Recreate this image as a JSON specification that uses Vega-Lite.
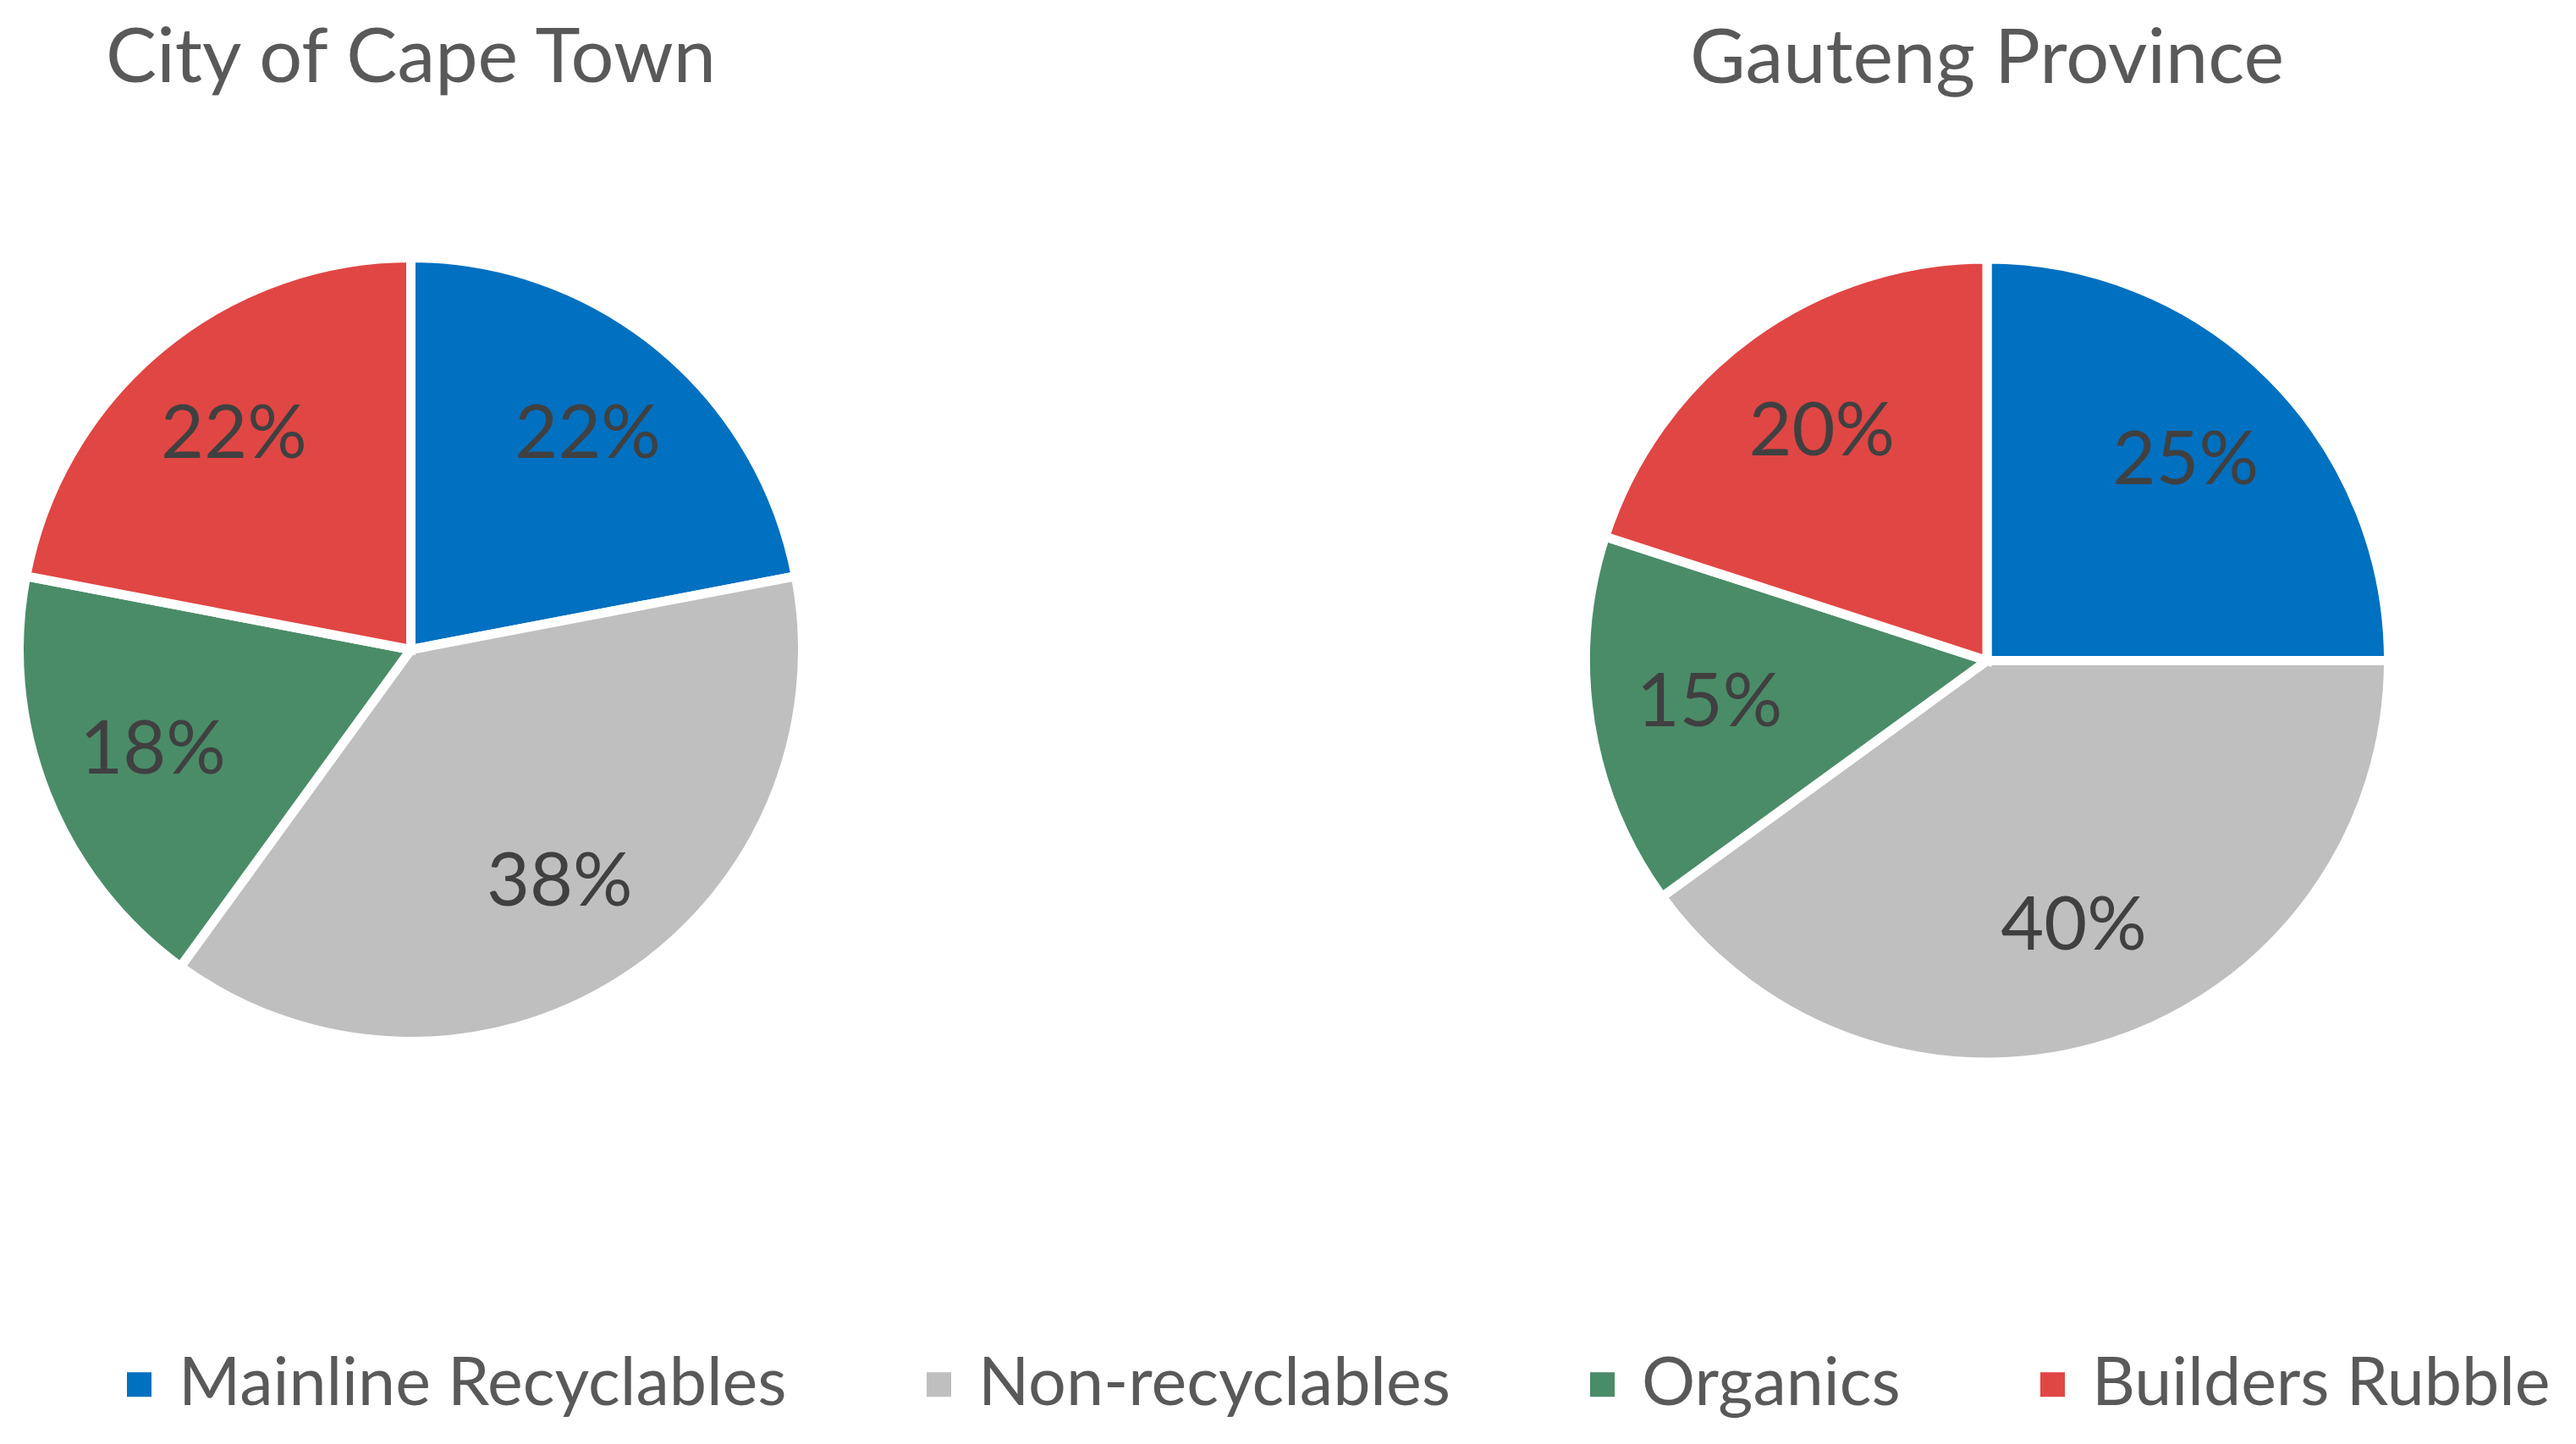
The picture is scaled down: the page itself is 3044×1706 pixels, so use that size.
{
  "$schema": "https://vega.github.io/schema/vega-lite/v6.json",
  "background": "white",
  "padding": {"left": 0, "top": 24, "right": 0, "bottom": 0},
  "config": {
    "view": {"stroke": null},
    "font": "Lato",
    "concat": {"spacing": 880},
    "title": {"fontSize": 90, "fontWeight": "normal", "color": "#595959", "font": "Lato", "offset": 167, "anchor": "middle"}
  },
  "datasets": {
    "cpt": [
      {"category": "Mainline Recyclables", "value": 0.22, "idx": 1},
      {"category": "Non-recyclables", "value": 0.38, "idx": 2},
      {"category": "Organics", "value": 0.18, "idx": 3},
      {"category": "Builders Rubble", "value": 0.22, "idx": 4}
    ],
    "gau": [
      {"category": "Mainline Recyclables", "value": 0.25, "idx": 1},
      {"category": "Non-recyclables", "value": 0.40, "idx": 2},
      {"category": "Organics", "value": 0.15, "idx": 3},
      {"category": "Builders Rubble", "value": 0.20, "idx": 4}
    ]
  },
  "hconcat": [
    {
      "title": "City of Cape Town",
      "width": 941,
      "height": 941,
      "data": {"name": "cpt"},
      "encoding": {
        "theta": {"field": "value", "type": "quantitative", "stack": true},
        "order": {"field": "idx", "type": "quantitative"},
        "color": {
          "field": "category", "type": "nominal",
          "scale": {"domain": ["Mainline Recyclables", "Non-recyclables", "Organics", "Builders Rubble"], "range": ["#0070C0", "#BFBFBF", "#4A8C68", "#E04644"]},
          "legend": {
            "title": null, "orient": "none", "direction": "horizontal", "columns": 4, "legendX": 110, "legendY": 1299,
            "symbolType": "square", "symbolSize": 841, "symbolStrokeWidth": 0,
            "labelFontSize": 79, "labelColor": "#595959", "labelFont": "Lato", "labelLimit": 0,
            "labelOffset": 7, "columnPadding": 140, "padding": 0
          }
        }
      },
      "layer": [
        {"mark": {"type": "arc", "outerRadius": 463, "stroke": "white", "strokeWidth": 11}},
        {"mark": {"type": "text", "radius": 328, "fontSize": 88, "font": "Lato", "align": "center", "baseline": "middle"},
         "encoding": {"text": {"field": "value", "type": "quantitative", "format": ".0%"}, "color": {"value": "#404040"}}}
      ]
    },
    {
      "title": "Gauteng Province",
      "width": 970,
      "height": 967,
      "data": {"name": "gau"},
      "encoding": {
        "theta": {"field": "value", "type": "quantitative", "stack": true},
        "order": {"field": "idx", "type": "quantitative"},
        "color": {"field": "category", "type": "nominal"}
      },
      "layer": [
        {"mark": {"type": "arc", "outerRadius": 474.5, "stroke": "white", "strokeWidth": 11}},
        {"mark": {"type": "text", "radius": 332, "fontSize": 88, "font": "Lato", "align": "center", "baseline": "middle"},
         "encoding": {"text": {"field": "value", "type": "quantitative", "format": ".0%"}, "color": {"value": "#404040"}}}
      ]
    }
  ]
}
